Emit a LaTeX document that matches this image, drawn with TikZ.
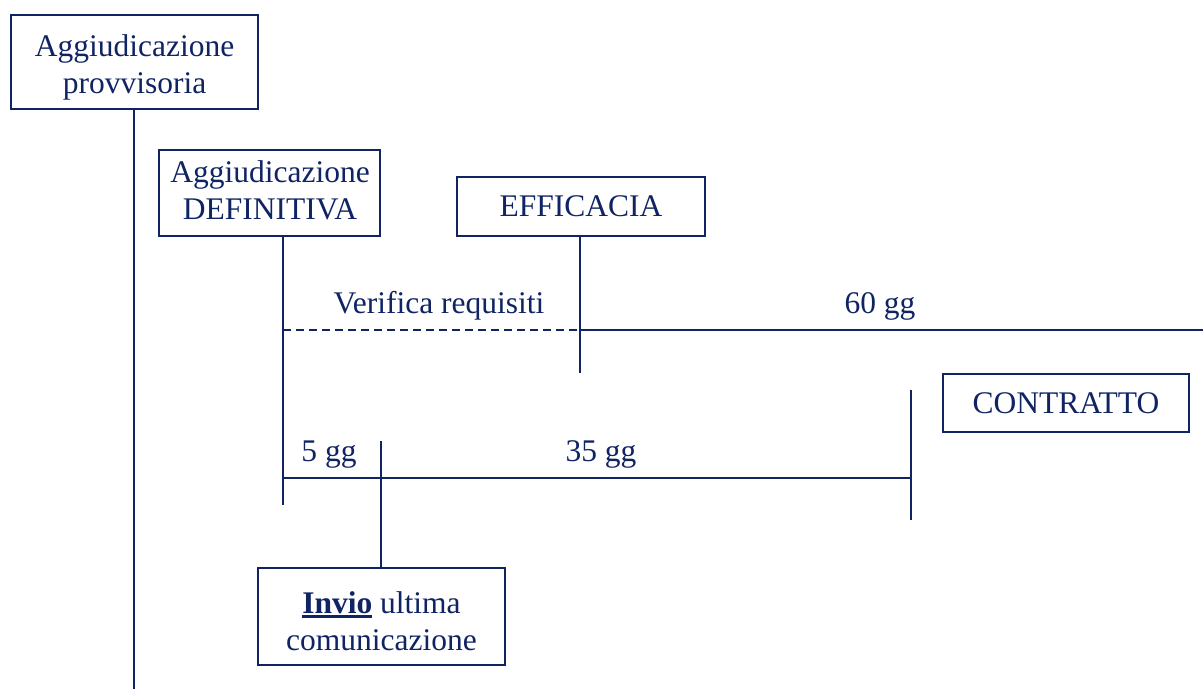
\documentclass[tikz,border=0pt]{standalone}
\usepackage{fontspec}
\setmainfont{Liberation Serif}
\definecolor{navy}{RGB}{16,36,100}
\newcommand{\myul}[1]{{\setbox0\hbox{#1}\rlap{\rule[-5pt]{\wd0}{3pt}}\box0}}
\begin{document}
\begin{tikzpicture}[x=1pt,y=-1pt,
  every node/.style={text=navy},
  txt/.style={font=\fontsize{31.5}{37}\selectfont, inner sep=0pt},
  mtxt/.style={txt, align=center},
  box/.style={txt, draw=navy, line width=1.5pt, align=center},
  lbl/.style={txt, anchor=base},
  ln/.style={draw=navy, line width=1.5pt},
  dsh/.style={ln, dash pattern=on 8pt off 5pt}]
\useasboundingbox (0,0) rectangle (1203,689);
\node[box, minimum width=247pt, minimum height=94pt] (prov) at (134.5,62) {};
\node[mtxt] (provT) at (134.5,67) {Aggiudicazione\\provvisoria};
\node[box, minimum width=221pt, minimum height=86pt] (def) at (269.5,193) {};
\node[mtxt] (defT) at (270,190) {Aggiudicazione\\DEFINITIVA};
\node[box, minimum width=248pt, minimum height=59pt] (eff) at (581,206.5) {EFFICACIA};
\node[box, minimum width=246pt, minimum height=58pt] (con) at (1066,403) {CONTRATTO};
\node[box, minimum width=247pt, minimum height=97pt] (inv) at (381.5,616.5) {};
\node[mtxt] (invT) at (381.5,621) {\myul{\textbf{Invio}} ultima\\comunicazione};

\node[lbl] (ver) at (439,313) {Verifica requisiti};
\node[lbl] (g60) at (880,313) {60 gg};
\node[lbl] (g5) at (329,461) {5 gg};
\node[lbl] (g35) at (601,461) {35 gg};

\coordinate (pTop) at (134,109);
\coordinate (pEnd) at (134,689);
\coordinate (dTop) at (283,236);
\coordinate (dEnd) at (283,505);
\coordinate (eTop) at (580,236);
\coordinate (eEnd) at (580,373);
\coordinate (vL) at (283,330);
\coordinate (vM) at (580,330);
\coordinate (vR) at (1203,330);
\coordinate (hL) at (283,478);
\coordinate (hR) at (911,478);
\coordinate (cTop) at (911,390);
\coordinate (cEnd) at (911,520);
\coordinate (iTop) at (381,441);
\coordinate (iBot) at (381,568);

\draw[ln] (pTop) -- (pEnd);
\draw[ln] (dTop) -- (dEnd);
\draw[ln] (eTop) -- (eEnd);
\draw[dsh] (vL) -- (vM);
\draw[ln] (vM) -- (vR);
\draw[ln] (hL) -- (hR);
\draw[ln] (cTop) -- (cEnd);
\draw[ln] (iTop) -- (iBot);
\end{tikzpicture}
\end{document}
